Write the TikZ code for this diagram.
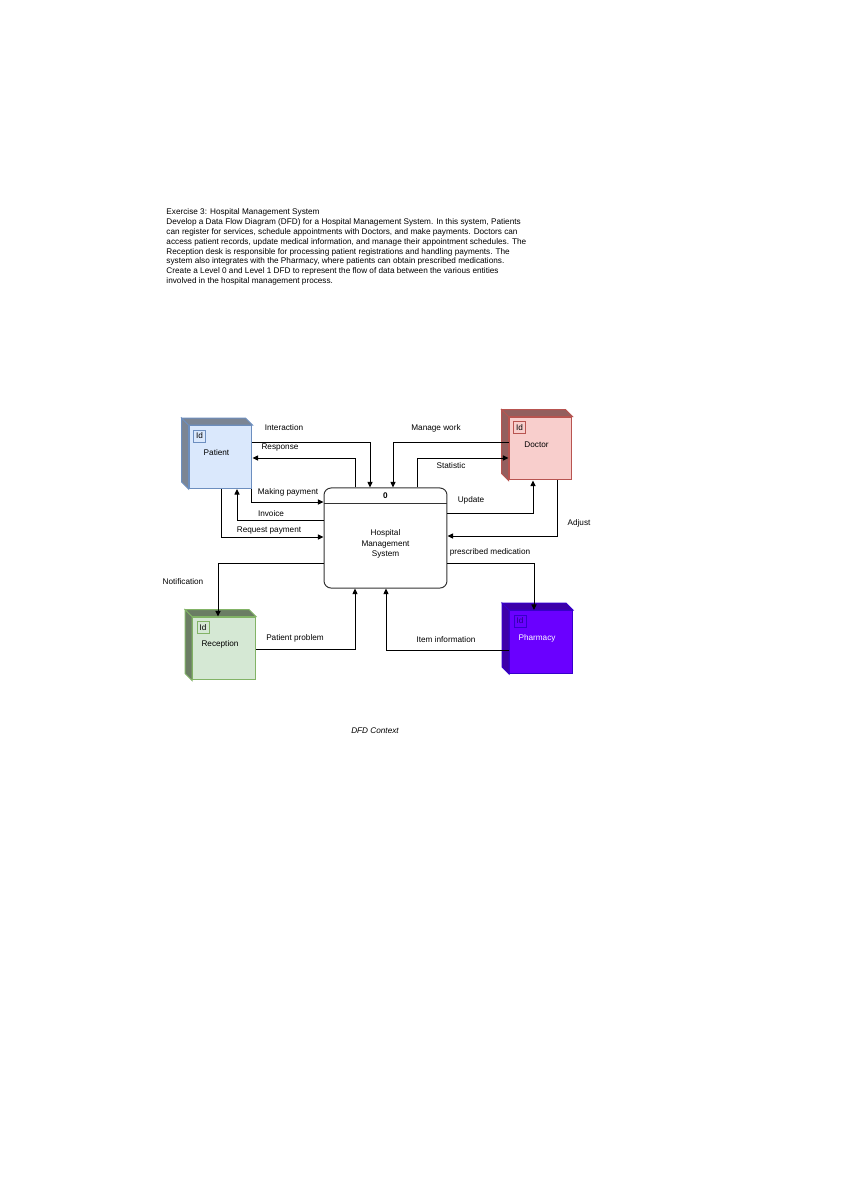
\documentclass[tikz,border=0pt]{standalone}
\usepackage{fontspec}
\setmainfont{Liberation Sans}
\usetikzlibrary{calc,arrows.meta}

\definecolor{patfill}{HTML}{DAE8FC}
\definecolor{patline}{HTML}{6C8EBF}
\definecolor{patside}{HTML}{7B8594}
\definecolor{docfill}{HTML}{F8CECC}
\definecolor{docline}{HTML}{B85450}
\definecolor{docside}{HTML}{935F5E}
\definecolor{recfill}{HTML}{D5E8D4}
\definecolor{recline}{HTML}{82B366}
\definecolor{recside}{HTML}{6B7D64}
\definecolor{phafill}{HTML}{6A00FF}
\definecolor{phaline}{HTML}{3700CC}
\definecolor{phaside}{HTML}{3D00A8}
\definecolor{phaid}{HTML}{2A0088}

\tikzset{
every picture/.style={
line width=0.7pt
}}

\begin{document}
\begin{tikzpicture}[x=0.7067pt, y=-0.7067pt,
font=\fontsize{5.8}{7}\selectfont,
entity/.style = {rectangle, minimum size=44.5pt, inner sep=0pt, line width=0.7pt},
idbox/.style = {rectangle, minimum size=8.5pt, inner sep=0pt, line width=0.5pt},
process/.style = {rectangle, draw=black!80, rounded corners=5pt, minimum width=86.9pt, minimum height=70.7pt, line width=0.7pt},
flow/.style = {-{Triangle[length=4pt, width=3.6pt]}, line width=0.7pt},
lbl/.style = {inner sep=0pt}]

\fill[white] (0,0) rectangle (842,1191);
\useasboundingbox (0,0) rectangle (842,1191);

% exercise statement
\node[anchor=north west, align=left, inner sep=0pt] (task) at (166,208) {Exercise 3: Hospital Management System\\
Develop a Data Flow Diagram (DFD) for a Hospital Management System. In this system, Patients\\
can register for services, schedule appointments with Doctors, and make payments. Doctors can\\
access patient records, update medical information, and manage their appointment schedules. The\\
Reception desk is responsible for processing patient registrations and handling payments. The\\
system also integrates with the Pharmacy, where patients can obtain prescribed medications.\\
Create a Level 0 and Level 1 DFD to represent the flow of data between the various entities\\
involved in the hospital management process.};

% external entities (cubes)
\foreach \name/\cx/\cy/\fc/\sc/\dc/\tc/\idc/\txt in {
patient/220.5/457/patfill/patline/patside/black/black/Patient,
doctor/540.5/448.5/docfill/docline/docside/black/black/Doctor,
reception/224/648.5/recfill/recline/recside/black/black/Reception,
pharmacy/541/642/phafill/phaline/phaside/white/phaid/Pharmacy}{
\node[entity, fill=\fc, draw=\sc] (\name) at (\cx,\cy) {};
\filldraw[fill=\dc, draw=\sc] (\name.north west) -- ++(-7,-7) -- ($(\name.south west)+(-7,-7)$) -- (\name.south west) -- cycle;
\filldraw[fill=\dc, draw=\sc] (\name.north west) -- ++(-7,-7) -- ($(\name.north east)+(-7,-7)$) -- (\name.north east) -- cycle;
\node[idbox, draw=\sc, text=\idc] (\name-id) at ($(\name.north west)+(11,11)$) {Id};
\node[lbl, text=\tc] (\name-name) at ($(\name.center)+(-4,-4)$) {\txt};
}

% process
\node[process] (hms) at (385.5,538) {};
\draw[black!80] ($(hms.north west)+(0,16)$) -- ($(hms.north east)+(0,16)$);
\node[lbl] (hms-no) at ($(hms.north)+(0,8)$) {\bfseries 0};
\node[lbl, align=center, font=\fontsize{5.8}{7.4}\selectfont] (hms-name) at (385.5,544) {Hospital\\Management\\System};

% data flows
\draw[flow] ($(patient.east)+(0,-15)$) -| ($(hms.north)+(-15.5,0)$);
\draw[flow] ($(hms.north)+(-30.5,0)$) |- ($(patient.east)+(0,1)$);
\draw[flow] ($(doctor.west)+(0,-6.5)$) -| ($(hms.north)+(7.5,0)$);
\draw[flow] ($(hms.north)+(31.5,0)$) |- ($(doctor.west)+(0,9.5)$);
\draw[flow] ($(hms.east)+(0,-25)$) -| ($(doctor.south)+(-7.5,0)$);
\draw[flow] ($(doctor.south)+(16.5,0)$) |- ($(hms.east)+(0,-2)$);
\draw[flow] ($(patient.south)+(31,0)$) |- ($(hms.west)+(0,-36)$);
\draw[flow] ($(hms.west)+(0,-18)$) -| ($(patient.south)+(16.5,0)$);
\draw[flow] ($(patient.south)+(0.5,0)$) |- ($(hms.west)+(0,-1)$);
\draw[flow] ($(hms.west)+(0,25)$) -| ($(reception.north)+(-6,0)$);
\draw[flow] ($(reception.east)+(0,0.5)$) -| ($(hms.south)+(-30.5,0)$);
\draw[flow] ($(hms.east)+(0,25)$) -| ($(pharmacy.north)+(-7,0)$);
\draw[flow] ($(pharmacy.west)+(0,8)$) -| ($(hms.south)+(0.5,0)$);

% flow labels
\node[lbl] (l-interaction) at (284,428) {Interaction};
\node[lbl] (l-response) at (280,448) {Response};
\node[lbl] (l-manage) at (436,428) {Manage work};
\node[lbl] (l-statistic) at (451,466) {Statistic};
\node[lbl] (l-update) at (471,500) {Update};
\node[lbl] (l-adjust) at (579,523) {Adjust};
\node[lbl] (l-making) at (288,492) {Making payment};
\node[lbl] (l-invoice) at (271,514) {Invoice};
\node[lbl] (l-request) at (269,531) {Request payment};
\node[lbl] (l-notify) at (183,582) {Notification};
\node[lbl] (l-problem) at (295,638) {Patient problem};
\node[lbl] (l-prescribed) at (490,552) {prescribed medication};
\node[lbl] (l-item) at (446,640) {Item information};

% caption
\node[lbl] (caption) at (375,731) {\itshape DFD Context};
\end{tikzpicture}
\end{document}
